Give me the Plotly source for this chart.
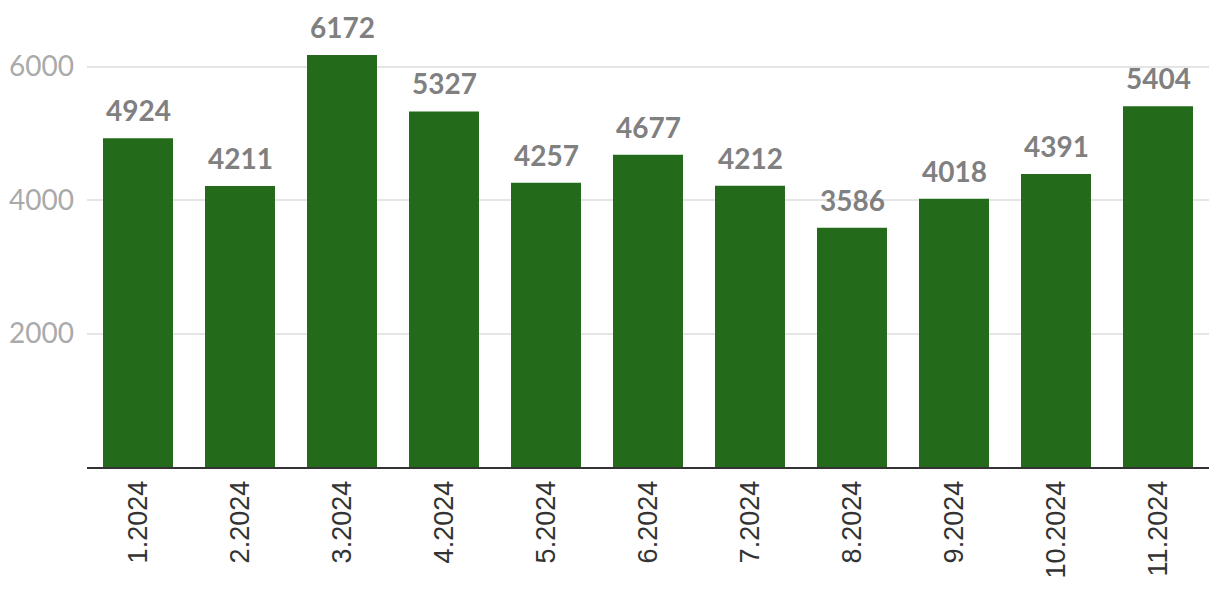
import plotly.graph_objects as go

months = ["1.2024", "2.2024", "3.2024", "4.2024", "5.2024", "6.2024",
          "7.2024", "8.2024", "9.2024", "10.2024", "11.2024"]
values = [4924, 4211, 6172, 5327, 4257, 4677, 4212, 3586, 4018, 4391, 5404]

fig = go.Figure()

fig.add_trace(go.Bar(
    x=months,
    y=values,
    marker=dict(color="#236B1A", line=dict(width=0)),
    hoverinfo="x+y",
))

# value labels above each bar (category index, since labels look numeric)
for i, v in enumerate(values):
    fig.add_annotation(
        x=i, y=v, text=f"<b>{v}</b>",
        showarrow=False, yanchor="bottom", yshift=9,
        font=dict(family="Lato", size=28, color="#808080"),
    )

# page body adds an 8px margin, so the figure is 8px smaller each way
fig.update_layout(
    width=1212,
    height=594,
    margin=dict(l=79, r=11, t=12, b=135, autoexpand=False),
    paper_bgcolor="white",
    plot_bgcolor="white",
    showlegend=False,
    bargap=0.314,
    xaxis=dict(
        type="category",
        tickangle=-90,
        tickfont=dict(family="Liberation Sans", size=27, color="#333333"),
        showline=True,
        linecolor="#333333",
        linewidth=2,
        showgrid=False,
        ticks="",
        ticklabelstandoff=1,
    ),
    yaxis=dict(
        range=[0, 6697],
        tickvals=[2000, 4000, 6000],
        tickfont=dict(family="Lato", size=28, color="#aaaaaa"),
        showgrid=True,
        gridcolor="#e5e5e5",
        gridwidth=1.5,
        zeroline=False,
        showline=False,
        ticks="",
        ticklabelstandoff=12,
    ),
)

fig.write_html("out.html")
